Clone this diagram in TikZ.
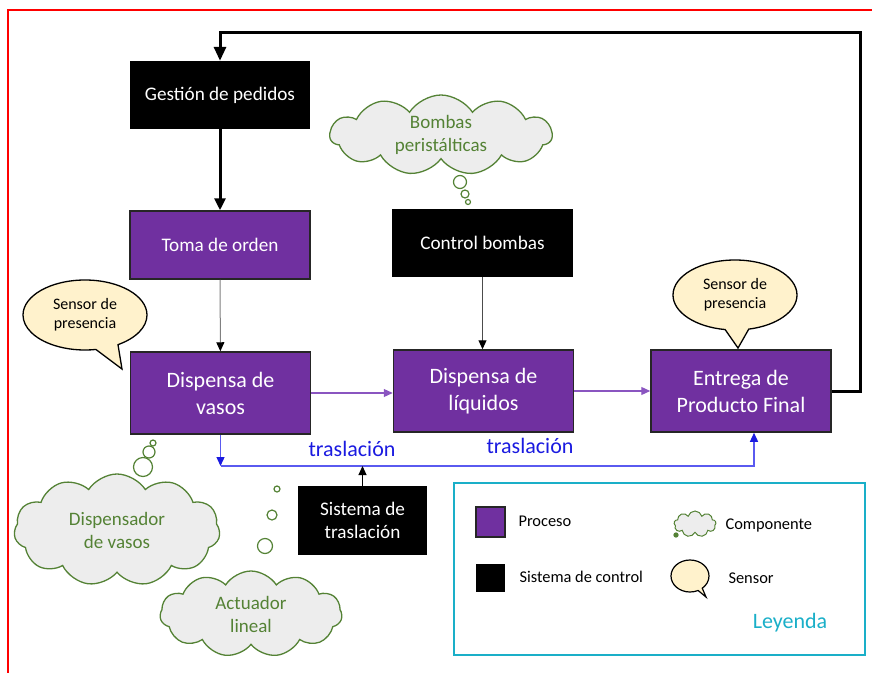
\documentclass[tikz,border=0pt]{standalone}
\usepackage{fontspec}
\setmainfont{Carlito}
\usetikzlibrary{arrows.meta}
\usetikzlibrary{shapes.symbols,shapes.callouts}
\definecolor{procpurple}{HTML}{7030A0}
\definecolor{arrowpurple}{HTML}{8A55C0}
\definecolor{cloudgreen}{HTML}{548235}
\definecolor{cloudfill}{HTML}{EDEDED}
\definecolor{sensorfill}{HTML}{FFF2CC}
\definecolor{traslblue}{HTML}{1A1AE0}
\definecolor{lineblue}{HTML}{5A5AF0}
\definecolor{legcyan}{HTML}{1AAFC8}
\tikzset{
  proc/.style={fill=procpurple, draw=black!85, line width=1.5pt, text=white, align=center,
    minimum width=180pt, minimum height=82pt, inner sep=0pt, font=\fontsize{22}{27}\selectfont},
  procsmall/.style={proc, minimum height=68pt, font=\fontsize{19.2}{23}\selectfont},
  ctrl/.style={fill=black, text=white, align=center, minimum width=180pt, minimum height=68pt,
    inner sep=0pt, font=\fontsize{19.2}{23}\selectfont},
  comp/.style={cloud, cloud puffs=11, cloud puff arc=115, cloud ignores aspect, draw=cloudgreen, fill=cloudfill,
    line width=1.3pt, text=cloudgreen, align=center, inner sep=0pt, font=\fontsize{19}{23}\selectfont},
  bubble/.style={circle, draw=cloudgreen, fill=white, line width=1.2pt, inner sep=0pt},
  sensor/.style={ellipse callout, draw=black, fill=sensorfill, line width=1.3pt, align=center,
    minimum width=124pt, minimum height=70pt, inner sep=0pt, callout pointer arc=22,
    font=\fontsize{16}{19}\selectfont},
  legtext/.style={anchor=west, font=\fontsize{16.4}{19}\selectfont},
  >={Triangle[length=9pt,width=8pt]}
}
\begin{document}
\begin{tikzpicture}[x=1pt,y=-1pt]
\useasboundingbox (0,0) rectangle (872,672);
\draw[red, line width=1.5pt] (8,680)--(8,10)--(880,10);

% procesos y control
\node[ctrl] (gestion) at (220,95) {Gestión de pedidos};
\node[procsmall] (toma) at (220,245) {Toma de orden};
\node[proc] (vasos) at (220.5,393) {Dispensa de\\vasos};
\node[ctrl, minimum width=181pt] (control) at (482.5,243) {Control bombas};
\node[proc] (liquidos) at (483.5,391) {Dispensa de\\líquidos};
\node[proc] (entrega) at (741,391) {Entrega de\\Producto Final};
\node[ctrl, minimum width=129pt, minimum height=69pt] (sistema) at (362.5,520.5) {Sistema de\\traslación};

% retorno
\coordinate (ret) at (860,32);
\draw[line width=3pt, ->, >={Triangle[length=14pt,width=12pt]}] (entrega.east) -| (ret) -| (gestion.north);
\draw[line width=3pt, ->, >={Triangle[length=12pt,width=11pt]}] (gestion) -- (toma);
\draw[gray, line width=1pt, -{Triangle[length=9pt,width=8pt,color=black]}] (toma) -- (vasos);
\draw[gray!60!black, line width=1pt, -{Triangle[length=9pt,width=8pt,color=black]}] (control.south) -- (control.south |- liquidos.north);
\draw[arrowpurple, line width=1.2pt, ->] (vasos.east) -- (vasos.east -| liquidos.west);
\draw[arrowpurple, line width=1.2pt, ->] (liquidos) -- (entrega);

% traslacion
\coordinate (tr1) at (220.5,466);
\coordinate (tr2) at (754,466);
\draw[lineblue, line width=1.3pt, -{Triangle[length=9pt,width=8pt,color=traslblue]}] (vasos.south) -- (tr1);
\draw[lineblue, line width=1.3pt, -{Triangle[length=9pt,width=8pt,color=traslblue]}] (tr1) -- (tr2) -- (tr2 |- entrega.south);
\draw[black, line width=1pt, ->] (sistema.north) -- (sistema.north |- tr1);
\node[text=traslblue, font=\fontsize{22}{26}\selectfont] (tras1) at (352,449) {traslación};
\node[text=traslblue, font=\fontsize{22}{26}\selectfont] (tras2) at (530,446) {traslación};

% componentes
\node[comp, minimum width=222pt, minimum height=80pt] (bombas) at (441,135) {Bombas\\peristálticas};
\node[bubble, minimum size=13pt] (bb1) at (460,182) {};
\node[bubble, minimum size=8pt] (bb2) at (465,194) {};
\node[bubble, minimum size=5pt] (bb3) at (468,202) {};
\node[comp, minimum width=206pt, minimum height=112pt] (dispensador) at (117,530) {Dispensador\\de vasos};
\node[bubble, minimum size=19pt] (db1) at (143,467) {};
\node[bubble, minimum size=12pt] (db2) at (149,452) {};
\node[bubble, minimum size=6pt] (db3) at (153,443) {};
\node[comp, minimum width=182pt, minimum height=86pt] (actuador) at (251,614) {Actuador\\lineal};
\node[bubble, minimum size=15pt] (ab1) at (265,546) {};
\node[bubble, minimum size=10pt] (ab2) at (272,515) {};
\node[bubble, minimum size=6pt] (ab3) at (277,489) {};

% sensores
\node[sensor, callout absolute pointer={(122,369)}] (sensorvasos) at (85,315) {Sensor de\\presencia};
\node[sensor, callout absolute pointer={(738,348)}] (sensorentrega) at (735,295) {Sensor de\\presencia};

% leyenda
\node[draw=legcyan, line width=1.5pt, minimum width=411pt, minimum height=172pt] (leyenda) at (659.5,569) {};
\node[fill=procpurple, draw=black!85, line width=1.2pt, minimum width=29pt, minimum height=30pt] (legproc) at (490.5,522) {};
\node[legtext] at (515,521) {Proceso};
\node[fill=black, minimum width=29pt, minimum height=28pt] (legctrl) at (490.5,578) {};
\node[legtext] at (516,577) {Sistema de control};
\node[cloud, cloud puffs=9, cloud ignores aspect, draw=cloudgreen, fill=cloudfill, line width=1pt, minimum width=42pt, minimum height=26pt, inner sep=0pt] (legcomp) at (695,524) {};
\node[bubble, minimum size=4pt, fill=cloudgreen] (legcb) at (676,535) {};
\node[legtext] at (722,525) {Componente};
\node[ellipse callout, draw=black, fill=sensorfill, line width=1.2pt, minimum width=38pt, minimum height=32pt, inner sep=0pt, callout absolute pointer={(706,597)}] (legsens) at (690,576) {};
\node[legtext] at (725,578) {Sensor};
\node[text=legcyan, font=\fontsize{22}{26}\selectfont] (legtitle) at (790,623) {Leyenda};
\end{tikzpicture}
\end{document}
